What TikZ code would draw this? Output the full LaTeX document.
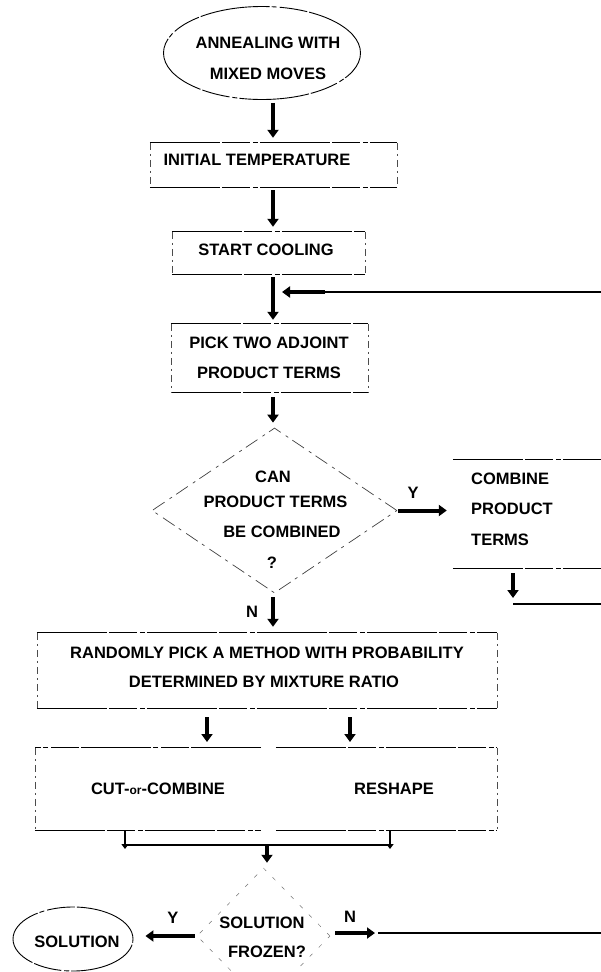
\documentclass[tikz,border=0pt]{standalone}
\usepackage{fontspec}
\setmainfont{Liberation Sans}
\usetikzlibrary{shapes.geometric,arrows.meta}
\newcommand\frbox[1]{%
 \draw[outline] (#1.north west) -- (#1.north east) (#1.south west) -- (#1.south east);
 \draw[faint] (#1.north west) -- (#1.south west) (#1.north east) -- (#1.south east);}
\begin{document}
\begin{tikzpicture}[x=1pt,y=-1pt,
 outline/.style={draw=black, line width=0.9pt, dash pattern=on 70pt off 2pt on 28pt off 3pt on 5pt off 2pt},
 faint/.style={draw=black!70, line width=0.6pt, dash pattern=on 7pt off 4pt on 2pt off 4pt},
 dia/.style={draw=black!75, line width=0.7pt, dash pattern=on 14pt off 5pt on 3pt off 6pt},
 box/.style={rectangle, inner sep=0pt},
 txt/.style={font=\fontsize{16.5}{30}\selectfont\bfseries, inner sep=0pt, align=center},
 arr/.style={line width=4pt, -{Triangle[length=8pt,width=11pt]}},
 small/.style={line width=2.5pt, -{Triangle[length=5pt,width=7pt]}},
 ret/.style={line width=2pt},
 ]
\useasboundingbox (0,0) rectangle (601,972);
\coordinate (cx) at (273,0);

% start ellipse
\node[ellipse, outline, minimum width=197pt, minimum height=93pt, inner sep=0pt] (ann) at (262,53) {};
\node[txt, font=\fontsize{16.5}{31}\selectfont\bfseries] (annT) at (268,58) {ANNEALING WITH\\MIXED MOVES};

% initial temperature
\node[box, minimum width=247pt, minimum height=44pt] (init) at (273.5,165) {};
\frbox{init}
\node[txt] (initT) at (257,160) {INITIAL TEMPERATURE};

% start cooling
\node[box, minimum width=193pt, minimum height=42pt] (cool) at (268.5,253) {};
\frbox{cool}
\node[txt] (coolT) at (266,250) {START COOLING};

% pick
\node[box, minimum width=197pt, minimum height=68pt] (pick) at (269.5,358) {};
\frbox{pick}
\node[txt] (pickT) at (269,358) {PICK TWO ADJOINT\\PRODUCT TERMS};

% decision diamond
\node[diamond, dia, minimum width=245pt, minimum height=165pt, inner sep=0pt] (cp) at (274.5,510.5) {};
\node[txt] (cpA) at (273,477) {CAN};
\node[txt] (cpB) at (275.5,502) {PRODUCT TERMS};
\node[txt] (cpC) at (282,532) {BE COMBINED};
\node[txt] (cpD) at (272,563) {?};

% combine box (cut at right edge)
\node[box, minimum width=187pt, minimum height=108pt] (comb) at (546.5,514) {};
\draw[outline] (comb.north west) -- (comb.north east) (comb.south west) -- (comb.south east);
\node[txt, align=left, anchor=west, font=\fontsize{16.5}{30.5}\selectfont\bfseries] (combT) at (471,509) {COMBINE\\PRODUCT\\TERMS};

% random pick box
\node[box, minimum width=460pt, minimum height=75pt] (rand) at (267,670.5) {};
\frbox{rand}
\node[txt] (randA) at (267,653) {RANDOMLY PICK A METHOD WITH PROBABILITY};
\node[txt] (randB) at (264,682) {DETERMINED BY MIXTURE RATIO};

% two method boxes
\node[box, minimum width=226pt, minimum height=82pt] (cut) at (148,789) {};
\node[box, minimum width=221pt, minimum height=82pt] (res) at (386.5,789) {};
\draw[outline] (cut.north east) -- (cut.north west) (cut.south west) -- (cut.south east);
\draw[faint] (cut.north west) -- (cut.south west);
\draw[outline] (res.north west) -- (res.north east) (res.south west) -- (res.south east);
\draw[faint] (res.north east) -- (res.south east);
\node[txt] (cutT) at (158,789) {CUT-{\fontsize{12}{12}\selectfont or}-COMBINE};
\node[txt] (resT) at (394,789) {RESHAPE};

% solution frozen diamond (faint in the original)
\node[diamond, draw=black!55, line width=0.5pt, dash pattern=on 4pt off 9pt, minimum width=133pt, minimum height=136pt, inner sep=0pt] (sf) at (263.5,936) {};
\node[txt] (sfA) at (262,923) {SOLUTION};
\node[txt] (sfB) at (267,952) {FROZEN?};

% solution ellipse
\node[ellipse, outline, minimum width=120pt, minimum height=64pt, inner sep=0pt] (sol) at (73,939) {};
\node[txt] (solT) at (77,942) {SOLUTION};

% helper coordinates
\coordinate (fb) at (282,292);
\coordinate (fbs) at (325,292);
\coordinate (rt) at (601,292);
\coordinate (cj) at (513,604);
\coordinate (rc) at (601,604);
\coordinate (s1) at (207,745);
\coordinate (s2) at (350,745);
\coordinate (h1) at (125,849);
\coordinate (h2) at (390,849);
\coordinate (m) at (267,845);
\coordinate (nb) at (378,933);
\coordinate (rb) at (601,933);

% connectors
\draw[arr, shorten <=3pt, shorten >=5pt] (ann.south -| cx) -- (init.north -| cx);
\draw[arr, shorten <=3pt, shorten >=5pt] (init.south -| cx) -- (cool.north -| cx);
\draw[arr, shorten <=3pt, shorten >=4pt] (cool.south -| cx) -- (pick.north -| cx);
\draw[ret] (rt) -- (fbs);
\draw[arr] (fbs) -- (fb);
\draw[arr, shorten <=5pt, shorten >=5pt] (pick.south -| cx) -- (cp.north -| cx);
\draw[arr, shorten <=1pt, shorten >=6pt] (cp.east) -- (comb.west |- cp.east);
\node[txt] (yl1) at (413,493) {Y};
\draw[arr, shorten <=5pt, shorten >=6pt] (comb.south -| cj) -- (cj);
\draw[ret] (cj) -- (rc);
\draw[arr, shorten <=4pt, shorten >=6pt] (cp.south -| cx) -- (rand.north -| cx);
\node[txt] (nl1) at (252,612) {N};
\draw[arr, shorten <=9pt, shorten >=3pt] (rand.south -| s1) -- (s1);
\draw[arr, shorten <=9pt, shorten >=3pt] (rand.south -| s2) -- (s2);
\draw[small] (cut.south -| h1) -- (h1);
\draw[small] (res.south -| h2) -- (h2);
\draw[line width=2.5pt] (h1 |- m) -- (h2 |- m);
\draw[arr, shorten >=5pt] (m) -- (sf.north -| m);
\draw[arr, shorten <=2pt, shorten >=12pt] (sf.west) -- (sol.east |- sf.west);
\node[txt] (yl2) at (173,918) {Y};
\draw[arr, shorten <=5pt, shorten >=3pt] (sf.east |- nb) -- (nb);
\draw[ret] (nb) -- (rb);
\node[txt] (nl2) at (350,917) {N};
\end{tikzpicture}
\end{document}
